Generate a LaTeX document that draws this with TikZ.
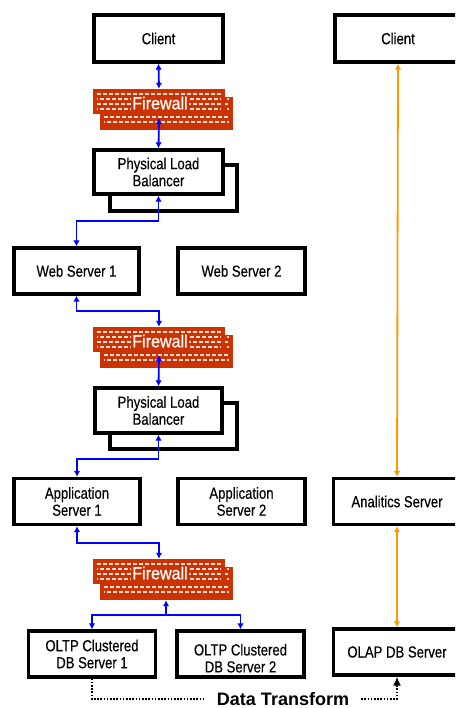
\documentclass[tikz,border=0pt]{standalone}
\usepackage{fontspec}
\setmainfont{Liberation Sans}
\newfontfamily\bxf{Liberation Sans}[FakeStretch=0.82,FakeBold=0.35]
\newfontfamily\fwf{Liberation Sans}[FakeStretch=0.92,FakeBold=0.6]
\usetikzlibrary{arrows.meta}
\definecolor{fwred}{HTML}{CC3300}
\definecolor{orng}{HTML}{FF9900}
\tikzset{
  box/.style={draw=black, line width=3.3pt, fill=white, align=center, inner sep=0pt,
    font=\bxf\fontsize{16}{17}\selectfont},
  fwf/.style={fill=fwred, draw=none, inner sep=0pt, minimum width=132pt, minimum height=25pt},
  fwb/.style={fill=fwred, draw=none, inner sep=0pt, minimum width=133pt, minimum height=33pt},
  fwd/.style={draw=white!85!fwred, line width=1.2pt, dash pattern=on 4pt off 2pt},
  fwt/.style={text=white, fill=fwred, font=\fwf\fontsize{17.5}{18}\selectfont, inner xsep=1.5pt, inner ysep=0.5pt},
  blu/.style={draw=blue, line width=1.8pt, {Latex[length=6pt,width=6.5pt]}-{Latex[length=6pt,width=6.5pt]}},
  bluup/.style={draw=blue, line width=1.8pt, -{Latex[length=6pt,width=6.5pt]}},
  org/.style={draw=orng, line width=1.8pt, {Latex[length=6pt,width=6.5pt]}-{Latex[length=6pt,width=6.5pt]}},
  dots/.style={draw=black, line width=2pt, dash pattern=on 1.6pt off 1.6pt},
}
\newcommand\fwall[2]{%
\begin{scope}[shift={(0,#2)}]
  \node[fwb] (#1b) at (166.5,24.5) {};
  \foreach \yy/\ph in {10/3,15/0,20/3,28/0,33/3} \draw[fwd, dash phase=\ph] (104,\yy) -- (229,\yy);
  \node[fwf] (#1) at (159,12.5) {};
  \foreach \yy/\ph in {5/0,10/3,15/0,20/3} \draw[fwd, dash phase=\ph] (97,\yy) -- (221,\yy);
  \node[fwt] (#1t) at (160,14) {Firewall};
\end{scope}}
\begin{document}
\begin{tikzpicture}[x=1pt,y=-1pt]
\useasboundingbox (0,0) rectangle (455,708);
\clip (0,0) rectangle (455,708);
\fill[white] (0,0) rectangle (455,708);

% left column
\node[box, minimum width=129pt, minimum height=47pt] (clientL) at (158.5,38.5) {Client};
\fwall{fw1}{89}
\node[box, minimum width=127pt, minimum height=46pt] (plb1b) at (173.5,188) {};
\node[box, minimum width=129pt, minimum height=44pt] (plb1) at (158.5,172) {Physical Load\\Balancer};

\node[box, minimum width=125pt, minimum height=46pt] (ws1) at (76.5,271) {Web Server 1};
\node[box, minimum width=127pt, minimum height=46pt] (ws2) at (241.5,271) {Web Server 2};

\fwall{fw2}{327}
\node[box, minimum width=127pt, minimum height=46pt] (plb2b) at (173.5,426) {};
\node[box, minimum width=127pt, minimum height=45pt] (plb2) at (158.5,410.5) {Physical Load\\Balancer};

\node[box, minimum width=126pt, minimum height=46pt] (app1) at (77,501.5) {Application\\Server 1};
\node[box, minimum width=127pt, minimum height=46pt] (app2) at (241.5,501.5) {Application\\Server 2};

\fwall{fw3}{559}

\node[box, minimum width=127pt, minimum height=46pt] (oltp1) at (92,654) {OLTP Clustered\\DB Server 1};
\node[box, minimum width=127pt, minimum height=46pt] (oltp2) at (240.5,654) {\rule{0pt}{20pt}OLTP Clustered\\DB Server 2};

% right column
\node[box, minimum width=126pt, minimum height=47pt] (clientR) at (398,38.5) {Client};
\node[box, minimum width=127pt, minimum height=46pt] (ana) at (397,501.5) {Analitics Server};
\node[box, minimum width=127pt, minimum height=46pt] (olap) at (397,652) {OLAP DB Server};

% blue connectors
\coordinate (fw1in) at (159,118);
\coordinate (fw2in) at (159,355);
\coordinate (j1) at (117,221);
\coordinate (j2) at (117,311);
\coordinate (j3) at (117,459);
\coordinate (j4) at (117,543);
\coordinate (bus) at (166,615);

\draw[blu] (clientL.south) -- (fw1.north);
\draw[blu] (fw1in) -- (plb1.north);
\draw[blu] (plb1.south) |- (j1) -| (ws1.north);
\draw[blu] (ws1.south) |- (j2) -| (fw2.north);
\draw[blu] (fw2in) -- (plb2.north);
\draw[blu] (plb2.south) |- (j3) -| (app1.north);
\draw[blu] (app1.south) |- (j4) -| (fw3.north);
\draw[bluup] (bus) -- (bus |- fw3b.south);
\draw[bluup] (bus) -| (oltp1.north);
\draw[bluup] (bus) -| (oltp2.north);

% orange connectors
\draw[org] (clientR.south) -- (ana.north);
\draw[org] (ana.south) -- (olap.north);

% data transform
\node[font=\bfseries\fontsize{18}{18}\selectfont, inner xsep=12pt, inner ysep=2pt] (dt) at (283,699) {Data Transform};
\draw[dots] (oltp1.south) |- (dt.west);
\draw[dots, -{Latex[length=9pt,width=8pt]}] (dt.east) -| (olap.south);
\end{tikzpicture}
\end{document}
